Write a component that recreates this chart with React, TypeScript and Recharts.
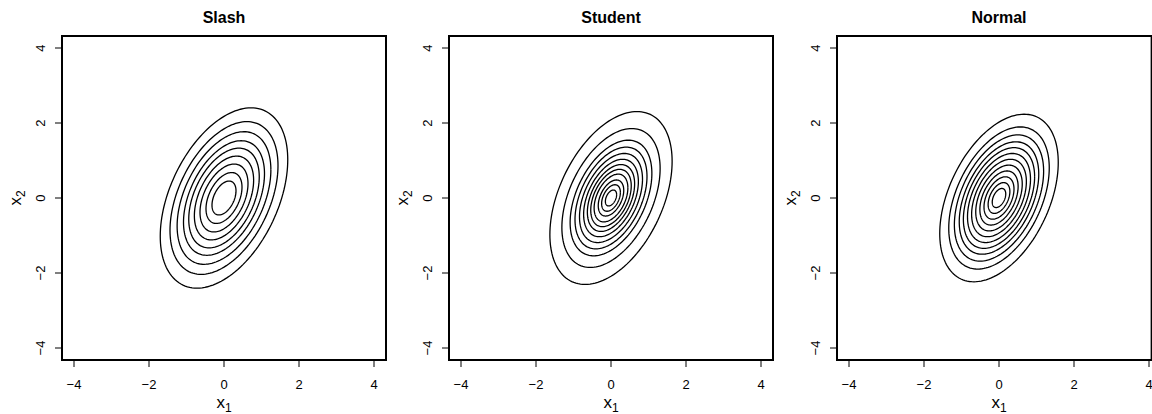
import React from 'react';
import { ScatterChart, Scatter, XAxis, YAxis, ReferenceArea } from 'recharts';

const panelTitles = ['Slash', 'Student', 'Normal'];

// Mahalanobis radius of every drawn contour, outer to inner
const slashLevels = [1.7, 1.44, 1.25, 1.08, 0.94, 0.79, 0.64, 0.48, 0.32];
const studentLevels = [1.63, 1.31, 1.09, 0.96, 0.84, 0.73, 0.63, 0.54, 0.45, 0.34, 0.25, 0.15];
const normalLevels = [1.58, 1.34, 1.19, 1.06, 0.95, 0.84, 0.73, 0.62, 0.51, 0.4, 0.29, 0.18];

const axisTicks = [-4, -2, 0, 2, 4];
const axisLimits = [-4.32, 4.32];
const lastPanelXMax = 4.07; // right panel is cut by the figure edge

// scale matrix behind the contours
const sigma11 = 1;
const sigma12 = 0.6;
const sigma22 = 2;

const FONT = '"Liberation Sans", Arial, Helvetica, sans-serif';
const PX_PER_UNIT = 37.5;
const BOX_LEFT = [62, 449, 837];

const contour = (r: number) => {
  const a = Math.sqrt(sigma11);
  const b = sigma12 / a;
  const c = Math.sqrt(sigma22 - b * b);
  const pts: { x: number; y: number }[] = [];
  const steps = 144;
  for (let i = 0; i <= steps; i++) {
    const t = (i / steps) * 2 * Math.PI;
    pts.push({ x: r * a * Math.cos(t), y: r * (b * Math.cos(t) + c * Math.sin(t)) });
  }
  return pts;
};

const fmt = (v: number) => (v < 0 ? `\u2212${-v}` : `${v}`);

const XTick = (props: any) => {
  const { x, y, payload } = props;
  return (
    <text x={x} y={y + 19.5} textAnchor="middle" fontSize={13} fill="#000" fontFamily={FONT}>
      {fmt(payload.value)}
    </text>
  );
};

const YTick = (props: any) => {
  const { x, y, payload } = props;
  const tx = x - 8.5;
  return (
    <text x={tx} y={y} transform={`rotate(-90, ${tx}, ${y})`} textAnchor="middle" fontSize={13} fill="#000" fontFamily={FONT}>
      {fmt(payload.value)}
    </text>
  );
};

interface PanelProps {
  title: string;
  levels: number[];
  xMax: number;
}

const Panel: React.FC<PanelProps> = ({ title, levels, xMax }) => {
  const plotW = (xMax - axisLimits[0]) * PX_PER_UNIT;
  const plotH = (axisLimits[1] - axisLimits[0]) * PX_PER_UNIT;
  const half = ((axisLimits[1] - axisLimits[0]) * PX_PER_UNIT) / 2;
  return (
    <ScatterChart
      width={62 + plotW + 10}
      height={414}
      margin={{ top: 36, left: 22, right: 10, bottom: 414 - 36 - plotH - 30 }}
    >
      <XAxis
        type="number"
        dataKey="x"
        domain={[axisLimits[0], xMax]}
        allowDataOverflow
        ticks={axisTicks}
        interval={0}
        height={30}
        axisLine={false}
        tickSize={7}
        tickMargin={2}
        tickLine={{ stroke: '#000', strokeWidth: 1 }}
        tick={<XTick />}
        label={(p: any) => {
          const vb = p.viewBox;
          return (
            <text x={vb.x + half} y={vb.y + 48} textAnchor="middle" fontSize={17} fill="#000" fontFamily={FONT}>
              x<tspan dy={4} fontSize={12}>1</tspan>
            </text>
          );
        }}
      />
      <YAxis
        type="number"
        dataKey="y"
        domain={axisLimits}
        allowDataOverflow
        ticks={axisTicks}
        interval={0}
        width={40}
        axisLine={false}
        tickSize={7}
        tickMargin={2}
        tickLine={{ stroke: '#000', strokeWidth: 1 }}
        tick={<YTick />}
        label={(p: any) => {
          const vb = p.viewBox;
          const lx = vb.x - 1;
          const ly = vb.y + half;
          return (
            <text x={lx} y={ly} transform={`rotate(-90, ${lx}, ${ly})`} textAnchor="middle" fontSize={17} fill="#000" fontFamily={FONT}>
              x<tspan dy={4} fontSize={12}>2</tspan>
            </text>
          );
        }}
      />
      {levels.map((r, i) => (
        <Scatter
          key={`c-${i}`}
          data={contour(r)}
          line={{ stroke: '#000', strokeWidth: 1.3, fill: 'none' }}
          lineType="joint"
          shape={() => <g />}
          isAnimationActive={false}
        />
      ))}
      <ReferenceArea
        x1={axisLimits[0]}
        x2={xMax}
        y1={axisLimits[0]}
        y2={axisLimits[1]}
        fill="none"
        stroke="#000"
        strokeWidth={2}
        ifOverflow="visible"
        label={(p: any) => {
          const vb = p.viewBox;
          return (
            <text x={vb.x + half} y={vb.y - 13} textAnchor="middle" fontSize={16} fontWeight="bold" fill="#000" fontFamily={FONT}>
              {title}
            </text>
          );
        }}
      />
    </ScatterChart>
  );
};

export default function App() {
  const levelSets = [slashLevels, studentLevels, normalLevels];
  return (
    <div style={{ position: 'absolute', left: 0, top: 0, width: 1152, height: 414, overflow: 'hidden', background: '#fff' }}>
      {panelTitles.map((t, i) => (
        <div key={t} style={{ position: 'absolute', left: BOX_LEFT[i] - 62, top: 0 }}>
          <Panel title={t} levels={levelSets[i]} xMax={i === 2 ? lastPanelXMax : axisLimits[1]} />
        </div>
      ))}
    </div>
  );
}
